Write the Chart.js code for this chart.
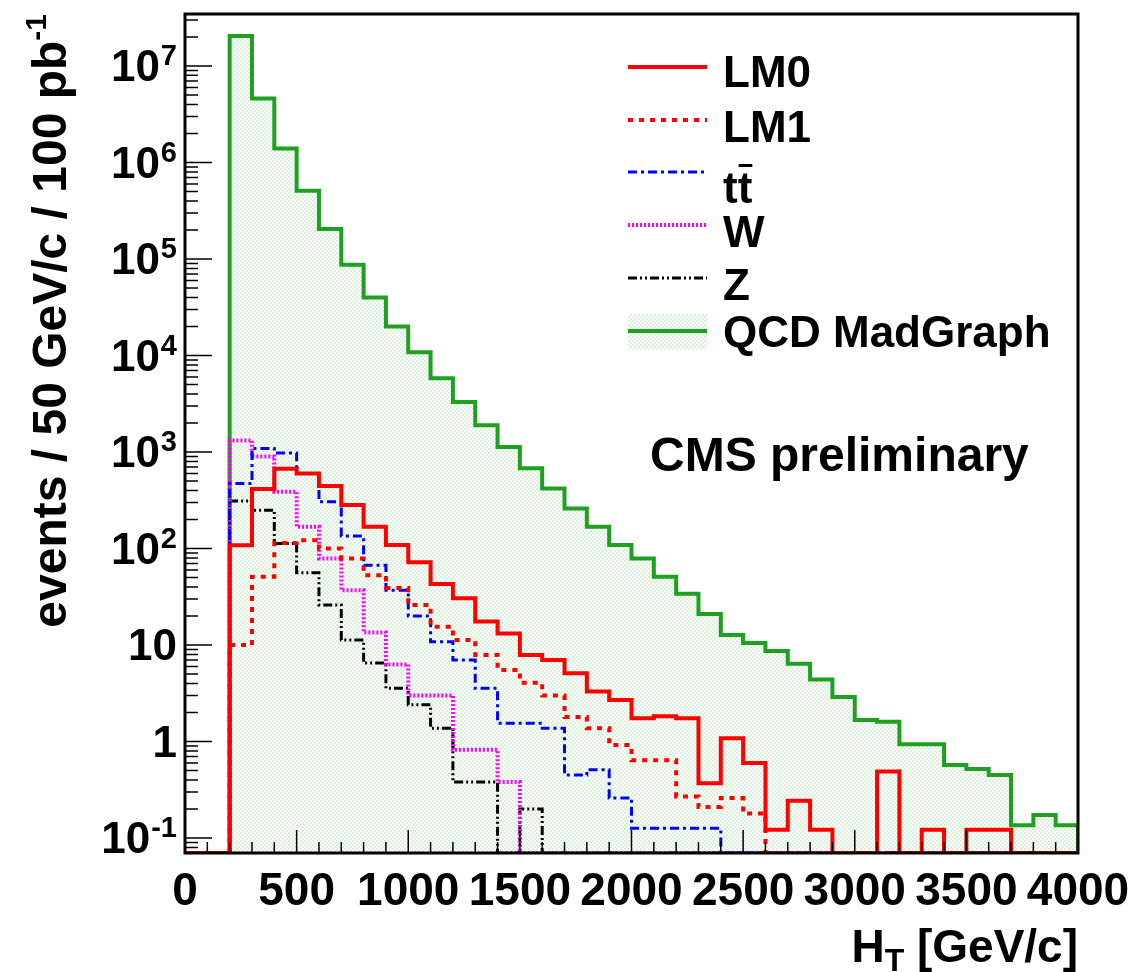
<!doctype html>
<html lang="en">
<head>
  <meta charset="utf-8">
  <title>HT distribution</title>
  <style>
    body { margin: 0; background: #fff; }
    #wrap { width: 1135px; height: 972px; position: relative; }
  </style>
</head>
<body>
  <div id="wrap"><canvas id="htChart"></canvas></div>

  <script src="https://cdn.jsdelivr.net/npm/chart.js@4"></script>
  <script>
    // bin edges (GeV), 100 GeV bins
    const binEdges = [0, 100, 200, 300, 400, 500, 600, 700, 800, 900, 1000,
      1100, 1200, 1300, 1400, 1500, 1600, 1700, 1800, 1900, 2000,
      2100, 2200, 2300, 2400, 2500, 2600, 2700, 2800, 2900, 3000,
      3100, 3200, 3300, 3400, 3500, 3600, 3700, 3800, 3900, 4000];

    // events per bin, one value per bin
    const lm0 = [0, 0, 108, 415, 670, 600, 445, 282, 168, 109, 72, 43, 30.5, 17.5, 13.2, 7.9, 7.0, 5.1, 3.3, 2.69,
      1.74, 1.83, 1.74, 0.37, 1.08, 0.60, 0.122, 0.244, 0.122, 0, 0, 0.49, 0, 0.122, 0, 0.122, 0.122, 0, 0, 0];
    const lm1 = [0, 0, 10, 51, 114, 122, 100, 79, 53, 39, 26, 15.5, 11.3, 7.9, 5.5, 4.07, 3.0, 1.8, 1.37, 0.92,
      0.64, 0.64, 0.27, 0.21, 0.26, 0.18, 0, 0, 0, 0, 0, 0, 0, 0, 0, 0, 0, 0, 0, 0];
    const ttbar = [0, 0, 473, 1090, 980, 600, 305, 135, 67, 37, 20, 10.8, 7.0, 3.56, 1.55, 1.55, 1.37, 0.45, 0.51, 0.26,
      0.126, 0.126, 0.126, 0.126, 0, 0, 0, 0, 0, 0, 0, 0, 0, 0, 0, 0, 0, 0, 0, 0];
    const wjets = [0, 0, 1320, 900, 388, 168, 79, 37, 13.5, 6.3, 3.0, 3.0, 0.82, 0.82, 0.38, 0, 0, 0, 0, 0,
      0, 0, 0, 0, 0, 0, 0, 0, 0, 0, 0, 0, 0, 0, 0, 0, 0, 0, 0, 0];
    const zjets = [0, 0, 310, 250, 113, 56, 26, 11.3, 6.5, 3.56, 2.4, 1.37, 0.38, 0.38, 0, 0.2, 0, 0, 0, 0,
      0, 0, 0, 0, 0, 0, 0, 0, 0, 0, 0, 0, 0, 0, 0, 0, 0, 0, 0, 0];
    const qcd = [0, 0, 2.05e7, 4.6e6, 1.4e6, 5.1e5, 2.05e5, 8.7e4, 4.0e4, 2.0e4, 1.08e4, 5.8e3, 3.3e3, 1.9e3, 1.13e3, 680, 420, 260, 168, 109,
      79, 51, 34, 21, 12.7, 10.5, 8.7, 6.4, 4.4, 2.9, 1.67, 1.6, 0.94, 0.94, 0.57, 0.52, 0.45, 0.136, 0.173, 0.136];

    const seriesNames = ['LM0', 'LM1', 'tt\u0304', 'W', 'Z', 'QCD MadGraph'];
    const xTicks = [0, 500, 1000, 1500, 2000, 2500, 3000, 3500, 4000];
    const yDecades = [-1, 0, 1, 2, 3, 4, 5, 6, 7];

    const Y_MIN = 0.07;
    const Y_MAX = 3.46e7;
    const FONT = '"Liberation Sans", Arial, Helvetica, sans-serif';

    // light green checker used by ROOT-like fill
    function hatchPattern() {
      const c = document.createElement('canvas');
      c.width = 4; c.height = 4;
      const g = c.getContext('2d');
      g.fillStyle = 'rgb(218,241,218)';
      g.fillRect(0, 0, 2, 2);
      g.fillRect(2, 2, 2, 2);
      return g.createPattern(c, 'repeat');
    }

    // histogram -> points for a stepped line (empty bins sit on the axis)
    function histPoints(vals) {
      const pts = [{ x: binEdges[0], y: Y_MIN }];
      vals.forEach((v, i) => pts.push({ x: binEdges[i], y: v > 0 ? v : Y_MIN }));
      pts.push({ x: binEdges[binEdges.length - 1], y: Y_MIN });
      return pts;
    }

    function histSet(name, vals, color, width, dash) {
      return {
        label: name,
        data: histPoints(vals),
        borderColor: color,
        borderWidth: width,
        borderDash: dash,
        stepped: 'before',
        pointRadius: 0,
        fill: false
      };
    }

    const datasets = [
      histSet(seriesNames[0], lm0, '#ff0000', 4, []),
      histSet(seriesNames[1], lm1, '#ff0000', 4, [5, 6]),
      histSet(seriesNames[2], ttbar, '#0000ff', 3, [9, 4, 3, 4]),
      histSet(seriesNames[3], wjets, '#ff00ff', 4, [2, 2]),
      histSet(seriesNames[4], zjets, '#000000', 3, [9, 3, 2, 3, 2, 3]),
      histSet(seriesNames[5], qcd, '#20a020', 4, [])
    ];
    datasets[5].fill = 'start';
    datasets[5].backgroundColor = hatchPattern();

    // frame, inner ticks, log labels, titles and legend
    const rootStyle = {
      id: 'rootStyle',
      afterDatasetsDraw(chart) {
        const { ctx, chartArea: a, scales: { x, y } } = chart;
        ctx.save();

        ctx.strokeStyle = '#000';
        ctx.lineWidth = 1.5;
        ctx.beginPath();
        for (let v = 0; v <= 4000; v += 100) {
          const px = x.getPixelForValue(v);
          ctx.moveTo(px, a.bottom);
          ctx.lineTo(px, a.bottom - (v % 500 === 0 ? 23 : 11));
        }
        for (let k = -2; k <= 7; k++) {
          for (let m = 1; m <= 9; m++) {
            const v = m * Math.pow(10, k);
            if (v < Y_MIN || v > Y_MAX) continue;
            const py = y.getPixelForValue(v);
            ctx.moveTo(a.left, py);
            ctx.lineTo(a.left + (m === 1 ? 27 : 13), py);
          }
        }
        ctx.stroke();

        ctx.lineWidth = 3;
        ctx.strokeRect(a.left, a.top, a.right - a.left, a.bottom - a.top);

        // y labels 10^k
        ctx.fillStyle = '#000';
        ctx.textAlign = 'right';
        ctx.textBaseline = 'middle';
        yDecades.forEach(k => {
          const py = y.getPixelForValue(Math.pow(10, k));
          const right = a.left - 8;
          if (k === 0 || k === 1) {
            ctx.font = 'bold 44px ' + FONT;
            ctx.fillText(k === 0 ? '1' : '10', right, py + 3);
          } else {
            ctx.font = 'bold 29px ' + FONT;
            const e = String(k);
            const we = ctx.measureText(e).width;
            ctx.fillText(e, right, py - 9);
            ctx.font = 'bold 44px ' + FONT;
            ctx.fillText('10', right - we - 1, py + 3);
          }
        });

        // x title H_T [GeV/c]
        ctx.textAlign = 'left';
        ctx.textBaseline = 'alphabetic';
        ctx.font = 'bold 46px ' + FONT;
        const wH = ctx.measureText('H').width;
        const wRest = ctx.measureText(' [GeV/c]').width;
        ctx.font = 'bold 32px ' + FONT;
        const wT = ctx.measureText('T').width;
        let tx = a.right - (wH + wT + wRest);
        ctx.font = 'bold 46px ' + FONT;
        ctx.fillText('H', tx, 962);
        ctx.font = 'bold 32px ' + FONT;
        ctx.fillText('T', tx + wH, 971);
        ctx.font = 'bold 46px ' + FONT;
        ctx.fillText(' [GeV/c]', tx + wH + wT, 962);

        // y title
        ctx.save();
        ctx.translate(66, a.top);
        ctx.rotate(-Math.PI / 2);
        ctx.font = 'bold 30px ' + FONT;
        const wSup = ctx.measureText('-1').width;
        ctx.fillText('-1', -wSup, -20);
        ctx.font = 'bold 48px ' + FONT;
        const wMain = ctx.measureText('events / 50 GeV/c / 100 pb').width;
        ctx.fillText('events / 50 GeV/c / 100 pb', -wSup - wMain, 0);
        ctx.restore();

        // CMS label
        ctx.font = 'bold 48px ' + FONT;
        ctx.fillText('CMS preliminary', 650, 471);

        // legend
        const rowY = [67, 120, 172, 225, 278, 331];
        const baseY = [87, 142, 203, 247, 300, 347];
        chart.data.datasets.forEach((ds, i) => {
          const sy = rowY[i];
          if (ds.fill) {
            ctx.fillStyle = ds.backgroundColor;
            ctx.fillRect(628, sy - 17, 79, 35);
          }
          ctx.strokeStyle = ds.borderColor;
          ctx.lineWidth = ds.borderWidth;
          ctx.setLineDash(ds.borderDash || []);
          ctx.beginPath();
          ctx.moveTo(628, sy);
          ctx.lineTo(707, sy);
          ctx.stroke();
          ctx.setLineDash([]);

          ctx.fillStyle = '#000';
          ctx.font = 'bold 44px ' + FONT;
          if (i === 2) {
            // t with a bar over the second t
            ctx.fillText('tt', 723, baseY[i]);
            const wt = ctx.measureText('t').width;
            ctx.fillRect(723 + wt + 1, 164, wt - 1, 3);
          } else {
            ctx.fillText(ds.label, 723, baseY[i]);
          }
        });

        ctx.restore();
      }
    };

    new Chart(document.getElementById('htChart'), {
      type: 'line',
      data: { datasets: datasets },
      options: {
        responsive: true,
        maintainAspectRatio: false,
        animation: false,
        layout: { padding: { left: 0, right: 57, top: 14, bottom: 0 } },
        plugins: {
          legend: { display: false },
          tooltip: { enabled: false }
        },
        scales: {
          x: {
            type: 'linear',
            min: 0,
            max: 4000,
            grid: { display: false },
            border: { display: false },
            afterBuildTicks: s => { s.ticks = xTicks.map(v => ({ value: v })); },
            afterFit: s => { s.height = 119; },
            ticks: {
              autoSkip: false,
              maxRotation: 0,
              padding: 4,
              color: '#000',
              font: { family: FONT, size: 46, weight: 'bold' },
              callback: v => String(v)
            }
          },
          y: {
            type: 'logarithmic',
            min: Y_MIN,
            max: Y_MAX,
            grid: { display: false },
            border: { display: false },
            ticks: { display: false },
            afterFit: s => { s.width = 185; }
          }
        }
      },
      plugins: [rootStyle]
    });
  </script>
</body>
</html>
